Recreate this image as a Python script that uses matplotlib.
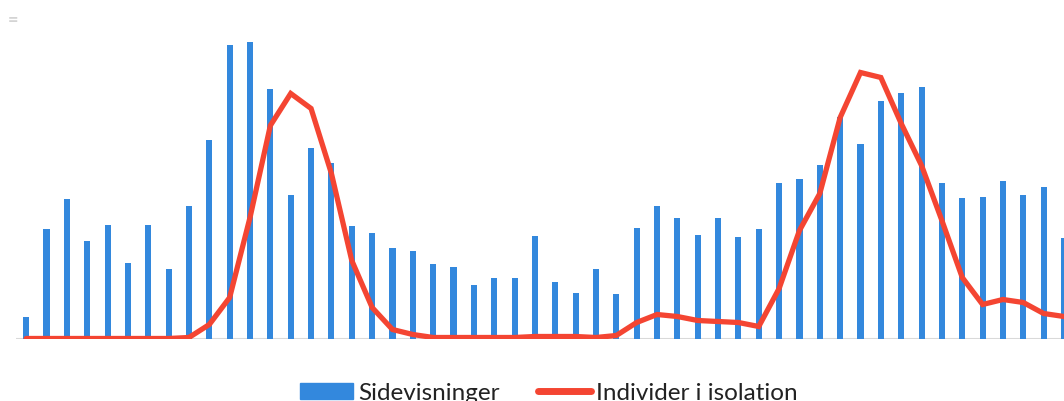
import numpy as np
import matplotlib.pyplot as plt
import matplotlib.patches as pat
from matplotlib.lines import Line2D

# values (arbitrary units, pixel heights)
sidevisninger = [22, 110, 140, 98, 114, 76, 114, 70, 133, 199,
                 294, 297, 250, 144, 191, 176, 113, 106, 91, 88,
                 75, 72, 54, 61, 61, 103, 57, 46, 70, 45,
                 111, 133, 121, 104, 121, 102, 110, 156, 160, 174,
                 222, 195, 238, 246, 252, 156, 141, 142, 158, 144,
                 152, 101]
isolation = [0, 0, 0, 0, 0, 0, 0, 0, 1, 14,
             41, 121, 213, 245, 230, 165, 78, 31, 9, 4,
             1, 1, 1, 1, 1, 2, 2, 2, 1, 3,
             16, 24, 22, 18, 17, 16, 12, 50, 108, 145,
             221, 266, 261, 215, 173, 118, 61, 34, 39, 36,
             25, 22]

blue = '#3388dd'
red = '#f44532'

plt.rcParams['font.family'] = ['Lato', 'DejaVu Sans']

fig = plt.figure(figsize=(10.64, 4.02), dpi=100)
ax = fig.add_axes([16 / 1064, 62.5 / 402, 1048 / 1064, 300 / 402])

x = np.arange(len(sidevisninger))
ax.bar(x, sidevisninger, width=0.3, color=blue, zorder=2)
ax.plot(x, isolation, color=red, linewidth=3.8, solid_capstyle='round',
        solid_joinstyle='miter', zorder=3)
ax.axhline(0, color='#d9d9d9', linewidth=1.5, zorder=1)

ax.set_xlim(-0.5, 51.0)
ax.set_ylim(0, 300)
ax.axis('off')

fig.text(8 / 1064, 1 - 21 / 402, '=', color='#d4d4d4', fontsize=13,
         fontweight='bold', ha='left', va='center')

blue_patch = pat.Patch(color=blue, label='Sidevisninger')
red_line = Line2D([], [], color=red, linewidth=5, solid_capstyle='round',
                  label='Individer i isolation')
fig.legend(handles=[blue_patch, red_line], loc='center',
           bbox_to_anchor=(549 / 1064, 1 - 394 / 402), ncol=2, frameon=False,
           fontsize=17.5, handlelength=2.15, handleheight=0.6,
           handletextpad=0.22, columnspacing=1.6, labelcolor='#222222')

fig.savefig('out.png', dpi=100)
